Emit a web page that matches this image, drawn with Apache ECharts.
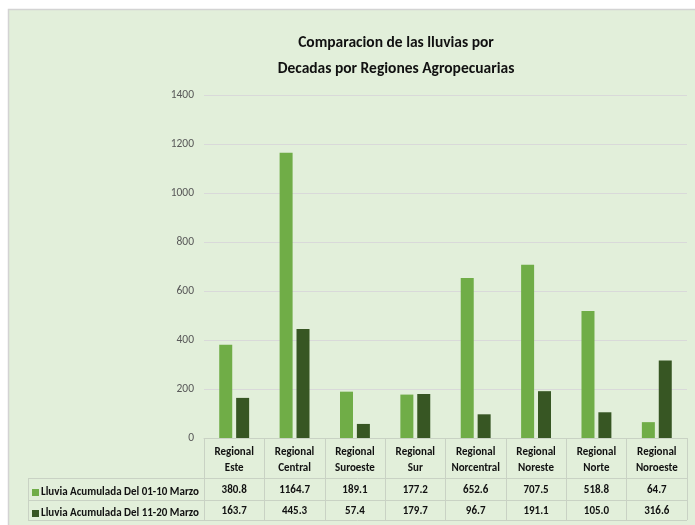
<!DOCTYPE html>
<html>
<head>
<meta charset="utf-8">
<script src="https://cdn.jsdelivr.net/npm/echarts@6/dist/echarts.min.js"></script>
<style>
  html, body { margin: 0; padding: 0; background: #fff; }
  #chart { width: 695px; height: 525px; }
</style>
</head>
<body>
<div id="chart"></div>
<script>
var categories = ['Regional Este', 'Regional Central', 'Regional Suroeste', 'Regional Sur', 'Regional Norcentral', 'Regional Noreste', 'Regional Norte', 'Regional Noroeste'];
var serie1Name = 'Lluvia Acumulada Del 01-10 Marzo';
var serie2Name = 'Lluvia Acumulada Del 11-20 Marzo';
var serie1 = [380.8, 1164.7, 189.1, 177.2, 652.6, 707.5, 518.8, 64.7];
var serie2 = [163.7, 445.3, 57.4, 179.7, 96.7, 191.1, 105.0, 316.6];
var yTicks = [0, 200, 400, 600, 800, 1000, 1200, 1400];

var font = 'Carlito, "Liberation Sans Narrow", "Open Sans", sans-serif';
var lineColor = '#c9d2c4';

var chartDom = document.getElementById('chart');
var myChart = echarts.init(chartDom);
var legendText = { fontSize: 11, color: '#111', fontWeight: 'bold', fontFamily: font, padding: [0, 0, 0, -3] };
var option = {
  backgroundColor: '#fff',
  textStyle: { fontFamily: font },
  title: {
    text: 'Comparacion de las lluvias por\nDecadas por Regiones Agropecuarias',
    left: 391,
    textAlign: 'center',
    top: 25,
    textStyle: { fontSize: 15.5, fontWeight: 'bold', color: '#111', lineHeight: 26, fontFamily: font }
  },
  legend: [
    { left: 27, top: 482, itemWidth: 7, itemHeight: 7, icon: 'rect', textStyle: legendText, data: [serie1Name] },
    { left: 27, top: 503, itemWidth: 7, itemHeight: 7, icon: 'rect', textStyle: legendText, data: [serie2Name] }
  ],
  grid: { left: 204, right: 8, top: 95, bottom: 87 },
  xAxis: {
    type: 'category',
    data: categories,
    axisLine: { show: true, lineStyle: { color: lineColor } },
    axisTick: { show: true, interval: 0, length: 82, lineStyle: { color: lineColor } },
    axisLabel: {
      interval: 0,
      margin: 6,
      color: '#111',
      fontSize: 11,
      fontWeight: 'bold',
      lineHeight: 16,
      fontFamily: font,
      formatter: function (v) { return v.replace(' ', '\n'); }
    }
  },
  yAxis: {
    type: 'value',
    min: yTicks[0],
    max: yTicks[yTicks.length - 1],
    interval: 200,
    axisLine: { show: false },
    axisTick: { show: false },
    axisLabel: { color: '#595959', fontSize: 11.5, margin: 10, fontFamily: font, formatter: function (v) { return String(v); } },
    splitLine: { lineStyle: { color: '#d9d9d9' } }
  },
  series: [
    { name: serie1Name, type: 'bar', data: serie1, barWidth: 13, barGap: '30%', itemStyle: { color: '#70ad47' } },
    { name: serie2Name, type: 'bar', data: serie2, barWidth: 13, itemStyle: { color: '#375623' } }
  ]
};
myChart.setOption(option);

// data table under the axis
var c0 = myChart.convertToPixel({ xAxisIndex: 0 }, 0);
var c1 = myChart.convertToPixel({ xAxisIndex: 0 }, 1);
var band = c1 - c0;
var tableLeft = c0 - band / 2;
var tableRight = tableLeft + band * categories.length;
var rowTops = [478, 500, 520];
var graphics = [
  { type: 'rect', shape: { x: 8.5, y: 9.5, width: 700, height: 530 }, style: { fill: '#e2efda', stroke: '#d3d3d3', lineWidth: 1.5 }, z: -10, silent: true }
];
rowTops.forEach(function (y) {
  graphics.push({ type: 'line', shape: { x1: 28, y1: y + 0.5, x2: tableRight, y2: y + 0.5 }, style: { stroke: lineColor, lineWidth: 1 } });
});
graphics.push({ type: 'line', shape: { x1: 28.5, y1: rowTops[0], x2: 28.5, y2: rowTops[2] }, style: { stroke: lineColor, lineWidth: 1 } });
[serie1, serie2].forEach(function (vals, r) {
  vals.forEach(function (v, i) {
    graphics.push({
      type: 'text',
      x: myChart.convertToPixel({ xAxisIndex: 0 }, i),
      y: (rowTops[r] + rowTops[r + 1]) / 2 + 1,
      style: { text: v.toFixed(1), fontSize: 11, fontWeight: 'bold', fontFamily: font, fill: '#111', align: 'center', verticalAlign: 'middle' }
    });
  });
});
myChart.setOption({ graphic: graphics });
</script>
</body>
</html>
